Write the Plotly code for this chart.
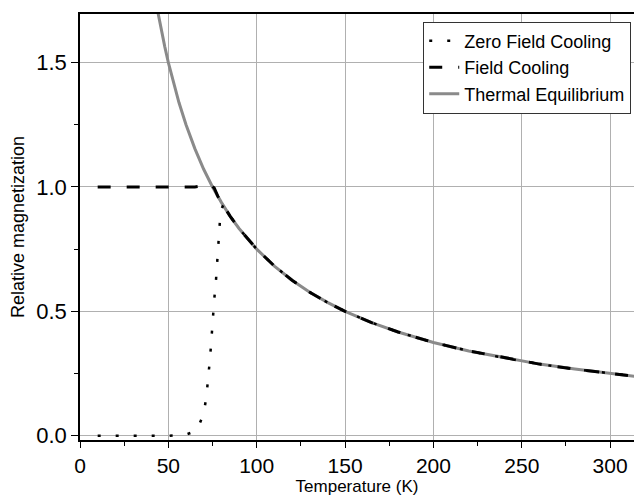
import plotly.graph_objects as go

# Zero field cooling (dotted)
zfc_t = [10, 20, 30, 40, 50, 60, 64, 67, 70, 71.5, 72.5, 73.2, 74, 74.6, 75.3, 76, 77,
         77.8, 78.5, 79.2, 80, 81, 85, 90, 100, 110, 120, 130, 140, 150, 165, 180, 200,
         220, 240, 260, 280, 300, 320]
zfc_m = [0.0, 0.0, 0.0, 0.0, 0.0, 0.005, 0.015, 0.036, 0.09, 0.155, 0.218, 0.284, 0.351,
         0.418, 0.487, 0.55, 0.63, 0.72, 0.8, 0.865, 0.91, 0.926, 0.882, 0.833, 0.75, 0.682,
         0.625, 0.577, 0.536, 0.5, 0.455, 0.417, 0.375, 0.341, 0.313, 0.288, 0.268, 0.25,
         0.234]

# Field cooling (dashed)
fc_t = [10, 30, 50, 65, 70, 74, 76, 78, 80, 85, 90, 100, 110, 120, 130, 140, 150, 165,
        180, 200, 220, 240, 260, 280, 300, 320]
fc_m = [1.0, 1.0, 1.0, 1.0, 1.005, 1.01, 0.995, 0.962, 0.938, 0.882, 0.833, 0.75, 0.682,
        0.625, 0.577, 0.536, 0.5, 0.455, 0.417, 0.375, 0.341, 0.313, 0.288, 0.268, 0.25,
        0.234]

# Thermal equilibrium (grey solid)
eq_t = [44, 46, 48, 50, 53, 56, 60, 65, 70, 75, 80, 85, 90, 100, 110, 120, 130, 140, 150,
        165, 180, 200, 220, 240, 260, 280, 300, 320]
eq_m = [1.705, 1.63, 1.563, 1.5, 1.415, 1.339, 1.25, 1.154, 1.071, 1.0, 0.938, 0.882,
        0.833, 0.75, 0.682, 0.625, 0.577, 0.536, 0.5, 0.455, 0.417, 0.375, 0.341, 0.313,
        0.288, 0.268, 0.25, 0.234]

FONT = "Liberation Sans, Arial, sans-serif"

fig = go.Figure()
fig.add_trace(go.Scatter(
    x=eq_t, y=eq_m, mode="lines", name="Thermal Equilibrium", legendrank=3,
    line=dict(color="#8a8a8a", width=3),
))
fig.add_trace(go.Scatter(
    x=fc_t, y=fc_m, mode="lines", name="Field Cooling", legendrank=2,
    line=dict(color="black", width=3, dash="13px,16px"),
))
fig.add_trace(go.Scatter(
    x=zfc_t, y=zfc_m, mode="lines", name="Zero Field Cooling", legendrank=1,
    line=dict(color="black", width=2.5, dash="3px,15px"),
))

# the page body adds an 8px offset around the figure
fig.update_layout(
    width=626,
    height=488,
    paper_bgcolor="white",
    plot_bgcolor="white",
    margin=dict(l=72, r=0, t=6, b=56, autoexpand=False),
    font=dict(family=FONT, color="black"),
    showlegend=True,
    legend=dict(
        x=0.995, y=0.982, xanchor="right", yanchor="top",
        bgcolor="white", bordercolor="#333333", borderwidth=1,
        font=dict(size=18, family=FONT),
        tracegroupgap=0,
    ),
)

fig.update_xaxes(
    range=[0, 313.5],
    tickvals=[0, 50, 100, 150, 200, 250, 300],
    ticks="outside", ticklen=6, tickwidth=1.2, tickcolor="black",
    minor=dict(dtick=25, ticks="outside", ticklen=4, tickcolor="black", showgrid=False),
    showline=True, linecolor="black", linewidth=1.5, mirror=True,
    showgrid=True, gridcolor="#b0b0b0", gridwidth=1,
    zeroline=False, automargin=False,
    tickfont=dict(size=21),
    title=dict(text="Temperature (K)", font=dict(size=17), standoff=4),
)

fig.update_yaxes(
    range=[-0.017, 1.695],
    tickvals=[0.0, 0.5, 1.0, 1.5],
    ticktext=["0.0", "0.5", "1.0", "1.5"],
    ticks="outside", ticklen=7, tickwidth=1.2, tickcolor="black",
    minor=dict(dtick=0.25, tick0=0, ticks="outside", ticklen=4, tickcolor="black",
               showgrid=False),
    showline=True, linecolor="black", linewidth=1.5,
    showgrid=True, gridcolor="#b0b0b0", gridwidth=1,
    zeroline=False, automargin=False,
    tickfont=dict(size=22),
    title=dict(text="Relative magnetization", font=dict(size=18), standoff=8),
)

fig.write_html("out.html")
